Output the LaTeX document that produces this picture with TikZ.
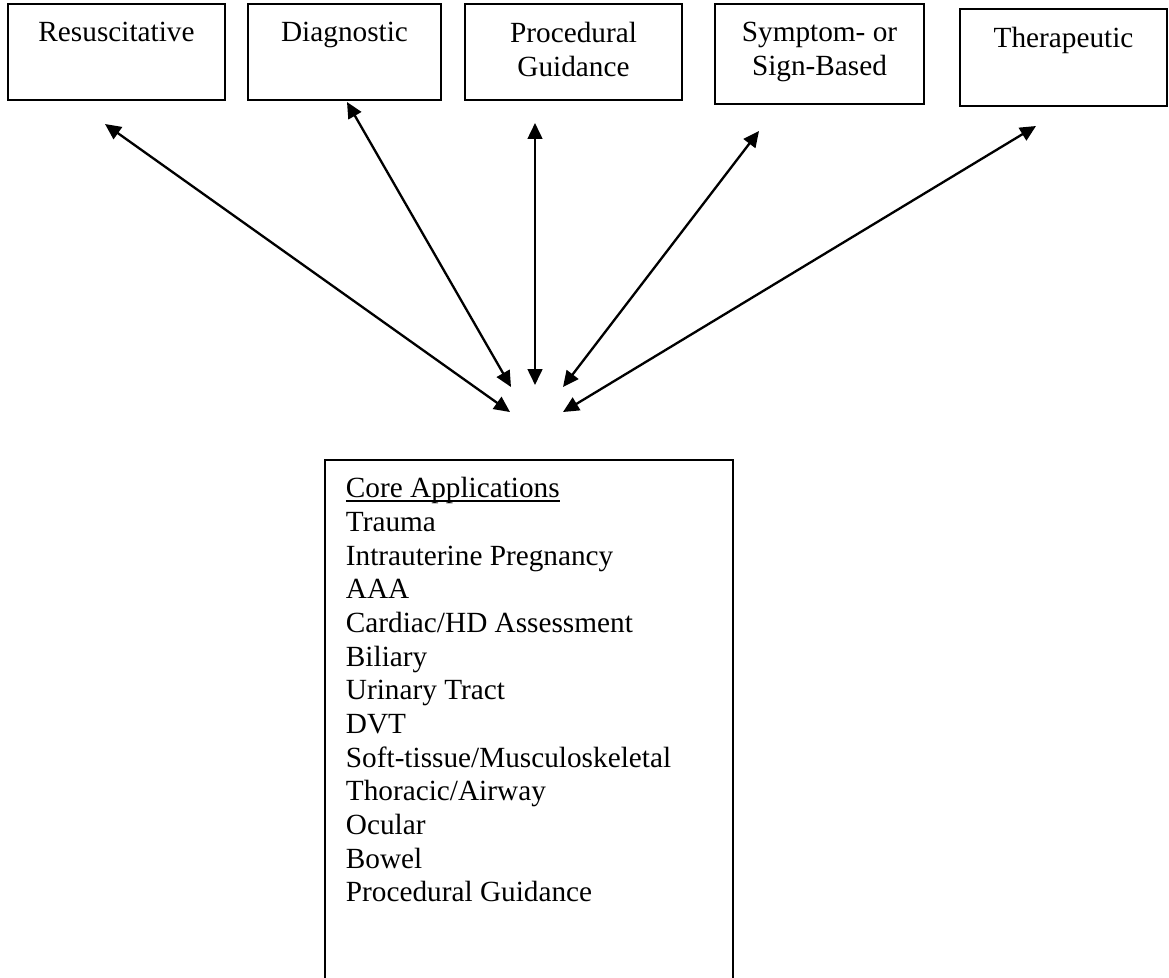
\documentclass[tikz,border=0pt]{standalone}
\usepackage{fontspec}
\setmainfont{Liberation Serif}
\usepackage{tikz}
\usetikzlibrary{positioning,arrows.meta}
\newcommand{\ulhead}[1]{\setbox0\hbox{#1}\rlap{\rule[-1.7pt]{\wd0}{0.7pt}}\box0}
\tikzstyle{cat} = [rectangle, draw, line width=0.8pt, inner sep=0pt]
\tikzstyle{lbl} = [inner sep=0pt, align=center, font=\fontsize{12}{13.8}\selectfont]
\tikzstyle{list} = [inner sep=0pt, align=left, font=\fontsize{12}{13.8}\selectfont]
\tikzstyle{line} = [draw, line width=0.95pt, {Triangle[length=6.5pt,width=6pt]}-{Triangle[length=6.5pt,width=6pt]}]

\begin{document}
\begin{tikzpicture}[x=0.41pt, y=-0.41pt]
        \useasboundingbox (0,0) rectangle (1169,977);
        \clip (0,0) rectangle (1169,977);
        % Place nodes
        \node at (116.5,52) [cat, minimum width=89pt, minimum height=39.4pt] (resus) {};
        \node at (344.5,52) [cat, minimum width=79.1pt, minimum height=39.4pt] (diag) {};
        \node at (573.5,52) [cat, minimum width=89pt, minimum height=39.4pt] (proc) {};
        \node at (819.5,54) [cat, minimum width=85.7pt, minimum height=41pt] (symp) {};
        \node at (1063.5,57.5) [cat, minimum width=84.9pt, minimum height=39.8pt] (thera) {};
        \node [lbl, below=7.8pt of resus.north] (resustxt) {Resuscitative};
        \node [lbl, below=7.8pt of diag.north] (diagtxt) {Diagnostic};
        \node [lbl, below=7.8pt of proc.north] (proctxt) {Procedural\\Guidance};
        \node [lbl, below=7.8pt of symp.north] (symptxt) {Symptom- or\\Sign-Based};
        \node [lbl, below=7.8pt of thera.north] (theratxt) {Therapeutic};
        \node at (529,730) [cat, minimum width=167.3pt, minimum height=221.4pt] (core) {};
        \node [list, below right=7.4pt and 8.8pt of core.north west] (corelist) {\ulhead{Core Applications}\\
                Trauma\\
                Intrauterine Pregnancy\\
                AAA\\
                Cardiac/HD Assessment\\
                Biliary\\
                Urinary Tract\\
                DVT\\
                Soft-tissue/Musculoskeletal\\
                Thoracic/Airway\\
                Ocular\\
                Bowel\\
                Procedural Guidance};
        \coordinate (r1) at (105,124);
        \coordinate (r2) at (510,412);
        \coordinate (d1) at (347,102);
        \coordinate (d2) at (511,387);
        \coordinate (p1) at (535,123);
        \coordinate (p2) at (535,385);
        \coordinate (s1) at (759,131);
        \coordinate (s2) at (563,387);
        \coordinate (t1) at (1036,126);
        \coordinate (t2) at (563,412);

        % Draw edges
        \path [line] (r1) -- (r2);
        \path [line] (d1) -- (d2);
        \path [line] (p1) -- (p2);
        \path [line] (s1) -- (s2);
        \path [line] (t1) -- (t2);
\end{tikzpicture}
\end{document}
